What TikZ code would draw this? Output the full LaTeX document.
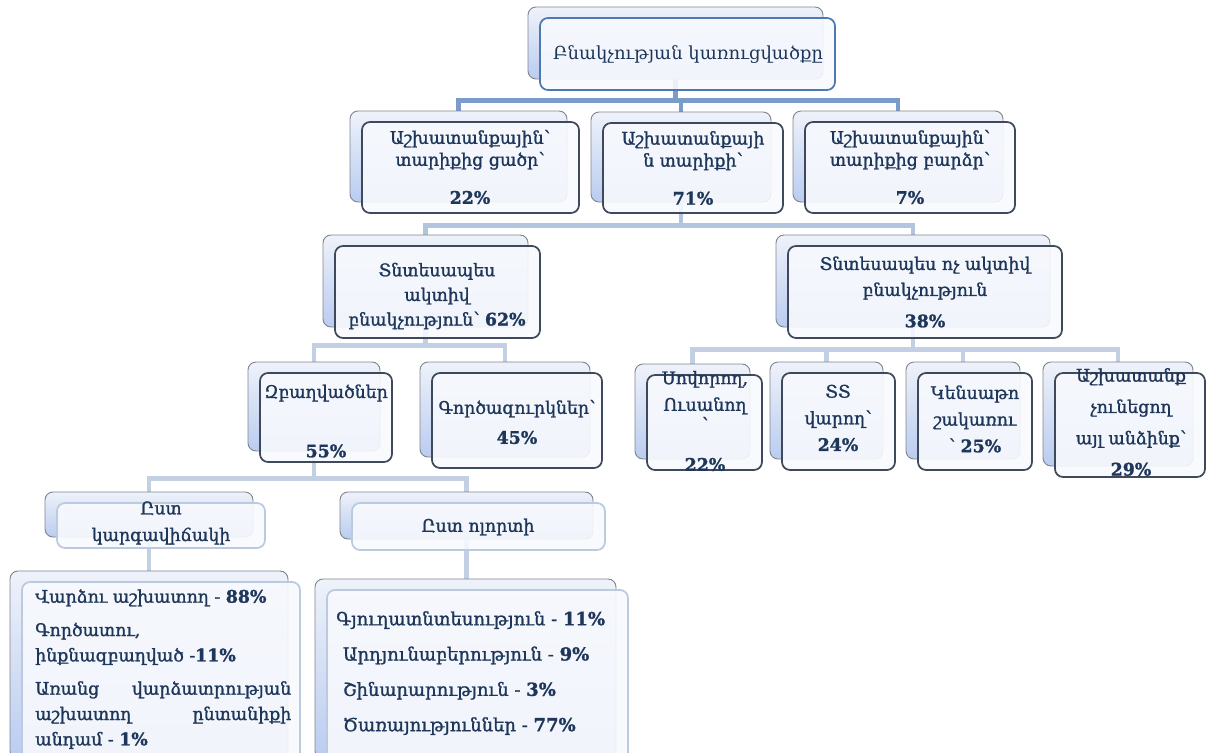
\documentclass[tikz,border=0pt]{standalone}
\usepackage{fontspec}
\setmainfont{DejaVu Serif}
\newfontfamily\armb{DejaVu Serif}[RawFeature={embolden=1.3}]
\usetikzlibrary{fit}
\definecolor{txt}{HTML}{1D3659}
\definecolor{backtop}{HTML}{EEF2FA}
\definecolor{backbot}{HTML}{BACCF0}
\definecolor{backline}{HTML}{80858F}
\definecolor{frontline}{HTML}{3E4A5C}
\definecolor{frontfill}{HTML}{F7F9FD}
\definecolor{topline}{HTML}{4E78B0}
\definecolor{lightline}{HTML}{BCCADF}
\definecolor{connA}{HTML}{7B9CCB}
\definecolor{connB}{HTML}{B3C4DE}
\definecolor{connC}{HTML}{C3CFE2}
\pgfdeclarelayer{bg}
\pgfsetlayers{bg,main}
\newcommand\mkbox[6]{%
  \node[backbox, fit={(#2-12,#3-11) (#4-12,#5-11)}] (#1B) {};
  \node[frontbox,#6, fit={(#2,#3) (#4,#5)}] (#1F) {};}
\begin{document}
\begin{tikzpicture}[x=0.75pt,y=-0.75pt,
  backbox/.style={rectangle, rounded corners=6pt, draw=backline, line width=0.7pt,
    top color=backtop, bottom color=backbot, inner sep=0pt},
  frontbox/.style={rectangle, rounded corners=6pt, draw=frontline, line width=1.3pt,
    fill=frontfill, fill opacity=0.9, inner sep=0pt},
  topbox/.style={draw=topline},
  lightbox/.style={draw=lightline},
  tx/.style={text=txt, align=center, inner sep=0pt,
    font=\armb\fontsize{13}{16.5}\selectfont},
  txw/.style={tx, font=\armb\fontsize{13}{20}\selectfont},
  conA/.style={draw=connA, line width=3.6pt},
  conB/.style={draw=connB, line width=3.6pt},
  conC/.style={draw=connC, line width=3.2pt},
]
\useasboundingbox (0,0) rectangle (1207,753);

\mkbox{top}{540}{18}{835}{90}{topbox}
\mkbox{la}{362}{122}{579}{213}{}
\mkbox{lb}{603}{123}{783}{213}{}
\mkbox{lc}{805}{122}{1015}{213}{}
\mkbox{ma}{335}{246}{540}{338}{}
\mkbox{mb}{788}{246}{1062}{338}{}
\mkbox{na}{260}{373}{392}{462}{}
\mkbox{nb}{432}{373}{602}{468}{}
\mkbox{nc}{647}{375}{762}{470}{}
\mkbox{nd}{782}{373}{895}{470}{}
\mkbox{ne}{918}{373}{1032}{470}{}
\mkbox{nf}{1055}{373}{1205}{477}{}
\mkbox{pa}{57}{503}{265}{548}{lightbox}
\mkbox{pb}{352}{503}{605}{550}{lightbox}
\mkbox{qa}{22}{582}{300}{770}{lightbox}
\mkbox{qb}{327}{590}{628}{770}{lightbox}

\begin{pgfonlayer}{bg}
\draw[conA] (topB.south) -- ++(0,21) -| (laB.north);
\draw[conA] (topB.south) -- ++(0,21) -| (lbB.north);
\draw[conA] (topB.south) -- ++(0,21) -| (lcB.north);
\draw[conB] (lbB.south) -- ++(0,23) -| (maB.north);
\draw[conB] (lbB.south) -- ++(0,23) -| (mbB.north);
\draw[conC] (maB.south) -- ++(0,18) -| (naB.north);
\draw[conC] (maB.south) -- ++(0,18) -| (nbB.north);
\draw[conC] (mbB.south) -- ++(0,22) -| (ncB.north);
\draw[conC] (mbB.south) -- ++(0,22) -| (ndB.north);
\draw[conC] (mbB.south) -- ++(0,22) -| (neB.north);
\draw[conC] (mbB.south) -- ++(0,22) -| (nfB.north);
\draw[conC] (naB.south) -- ++(0,27) -| (paB.north);
\draw[conC] (naB.south) -- ++(0,27) -| (pbB.north);
\draw[conC] (paB.south) -- (paB.south |- qaB.north);
\draw[conC] (pbB.south) -- (pbB.south |- qbB.north);
\end{pgfonlayer}

\node[tx, font=\fontsize{13.5}{16.5}\selectfont] (topT) at (688,55) {Բնակչության կառուցվածքը};
\node[tx] (laT) at (470,167) {Աշխատանքային՝\\տարիքից ցածր՝\\[12pt]\textbf{22\%}};
\node[tx] (lbT) at (693,168) {Աշխատանքայի\\ն տարիքի՝\\[12pt]\textbf{71\%}};
\node[tx] (lcT) at (910,167) {Աշխատանքային՝\\տարիքից բարձր՝\\[12pt]\textbf{7\%}};
\node[tx, font=\armb\fontsize{13}{18.5}\selectfont] (maT) at (437,296) {Տնտեսապես\\ակտիվ\\բնակչություն՝ \textbf{62\%}};
\node[tx, font=\armb\fontsize{13}{19.5}\selectfont] (mbT) at (925,292) {Տնտեսապես ոչ ակտիվ\\բնակչություն\\[4pt]\textbf{38\%}};
\node[tx] (naT) at (326,421) {Զբաղվածներ\\[28pt]\textbf{55\%}};
\node[tx] (nbT) at (517,422) {Գործազուրկներ՝\\[6pt]\textbf{45\%}};
\node[txw] (ncT) at (705,421) {Սովորող,\\Ուսանող\\[-5pt]՝\hspace*{2.2em}\\[10pt]\textbf{22\%}};
\node[txw] (ndT) at (838,418) {ՏՏ\\վարող՝\\\textbf{24\%}};
\node[txw] (neT) at (975,419) {Կենսաթո\\շակառու\\՝ \textbf{25\%}};
\node[tx, font=\armb\fontsize{13}{23.5}\selectfont] (nfT) at (1131,422) {Աշխատանք\\չունեցող\\այլ անձինք՝\\\textbf{29\%}};
\node[tx, font=\armb\fontsize{13}{20}\selectfont] (paT) at (161,523) {Ըստ\\կարգավիճակի};
\node[tx] (pbT) at (478,527) {Ըստ ոլորտի};
\node[tx, anchor=north west, align=justify, text width=192pt,
  font=\armb\fontsize{13}{19}\selectfont] (qaT) at (35,589)
  {\parindent=0pt Վարձու աշխատող - \textbf{88\%}\par\vspace{6pt}%
   Գործատու,\newline ինքնազբաղված -\textbf{11\%}\par\vspace{6pt}%
   Առանց վարձատրության\linebreak աշխատող ընտանիքի\linebreak անդամ - \textbf{1\%}};
\node[tx, anchor=north west, align=left,
  font=\armb\fontsize{13.5}{26.5}\selectfont] (qbT) at (336,611)
  {Գյուղատնտեսություն - \textbf{11\%}\\
   \hspace*{5pt}Արդյունաբերություն - \textbf{9\%}\\
   \hspace*{5pt}Շինարարություն - \textbf{3\%}\\
   \hspace*{5pt}Ծառայություններ - \textbf{77\%}};
\end{tikzpicture}
\end{document}
